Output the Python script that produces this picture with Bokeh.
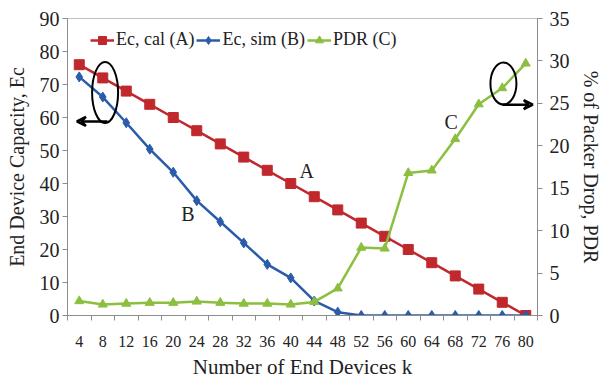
from bokeh.plotting import figure
from bokeh.models import (Range1d, LinearAxis, FixedTicker, Legend, LegendItem,
                          Arrow, VeeHead, Label, ColumnDataSource)
from bokeh.embed import file_html
from bokeh.resources import INLINE

# ---- data ----
k = [4, 8, 12, 16, 20, 24, 28, 32, 36, 40, 44, 48, 52, 56, 60, 64, 68, 72, 76, 80]
ec_cal = [76, 72, 68, 64, 60, 56, 52, 48, 44, 40, 36, 32, 28, 24, 20, 16, 12, 8, 4, 0]
ec_sim = [72.3, 66.2, 58.4, 50.4, 43.4, 34.8, 28.4, 22.0, 15.5, 11.4, 4.4, 1.0,
          0, 0, 0, 0, 0, 0, 0, 0]
pdr = [1.7, 1.3, 1.4, 1.5, 1.5, 1.65, 1.5, 1.4, 1.4, 1.3, 1.6, 3.2,
       8.0, 7.9, 16.8, 17.1, 20.8, 24.9, 26.8, 29.7]
left_ticks = [0, 10, 20, 30, 40, 50, 60, 70, 80, 90]
right_ticks = [0, 5, 10, 15, 20, 25, 30, 35]
boundaries = [2 + 4 * i for i in range(21)]

RED = "#C0282D"
BLUE = "#2A5CAA"
GREEN = "#8CBF3F"
FONT = "Liberation Serif"
AXC = "#8C8C8C"
TXT = "#222222"

p = figure(width=604, height=385, output_backend="svg", toolbar_location=None,
           x_range=Range1d(2, 82), y_range=Range1d(0, 90),
           min_border_left=67, min_border_right=63, min_border_top=18,
           min_border_bottom=70, x_axis_location=None, y_axis_location=None)
p.extra_y_ranges = {"pdr": Range1d(0, 35)}
p.xgrid.visible = False
p.ygrid.visible = False
p.outline_line_color = "#BFBFBF"
p.background_fill_color = "white"
p.border_fill_color = "white"


def style_y(ax):
    ax.axis_label_text_font = FONT
    ax.axis_label_text_font_size = "20px"
    ax.axis_label_text_font_style = "normal"
    ax.axis_label_text_color = TXT
    ax.major_label_text_font = FONT
    ax.major_label_text_font_size = "20px"
    ax.major_label_text_color = TXT
    ax.axis_line_color = AXC
    ax.major_tick_line_color = AXC
    ax.major_tick_out = 5
    ax.major_tick_in = 0
    ax.minor_tick_line_color = None


ly = LinearAxis(ticker=FixedTicker(ticks=left_ticks),
                axis_label="End Device Capacity, Ec")
style_y(ly)
ly.major_label_standoff = 3
ly.axis_label_standoff = 9
p.add_layout(ly, "left")

ry = LinearAxis(y_range_name="pdr", ticker=FixedTicker(ticks=right_ticks),
                axis_label="% of Packer Drop, PDR")
style_y(ry)
ry.major_label_standoff = 7
ry.axis_label_standoff = 7
p.add_layout(ry, "right")

# bottom axis with ticks at category boundaries (no labels)
bx = LinearAxis(ticker=FixedTicker(ticks=boundaries))
bx.major_label_overrides = {b: "" for b in boundaries}
bx.major_label_text_font_size = "1px"
bx.major_label_standoff = 0
bx.axis_line_color = AXC
bx.major_tick_line_color = AXC
bx.major_tick_out = 5
bx.major_tick_in = 0
bx.minor_tick_line_color = None
p.add_layout(bx, "below")

# bottom axis carrying labels at category centres
lx = LinearAxis(ticker=FixedTicker(ticks=k), axis_label="Number of End Devices k")
lx.axis_line_color = None
lx.major_tick_line_color = None
lx.minor_tick_line_color = None
lx.major_tick_out = 0
lx.major_tick_in = 0
lx.major_label_text_font = FONT
lx.major_label_text_font_size = "16px"
lx.major_label_text_color = TXT
lx.major_label_standoff = 15
lx.axis_label_text_font = FONT
lx.axis_label_text_font_size = "21px"
lx.axis_label_text_font_style = "normal"
lx.axis_label_text_color = TXT
lx.axis_label_standoff = 5
p.add_layout(lx, "below")

src = ColumnDataSource(dict(k=k, ec_cal=ec_cal, ec_sim=ec_sim, pdr=pdr))

r1l = p.line("k", "ec_cal", source=src, color=RED, line_width=2.5)
r1m = p.scatter("k", "ec_cal", source=src, marker="square", size=10, color=RED)
r2l = p.line("k", "ec_sim", source=src, color=BLUE, line_width=2.5)
r2m = p.scatter("k", "ec_sim", source=src, marker="diamond", size=10, color=BLUE)
r3l = p.line("k", "pdr", source=src, color=GREEN, line_width=2.5, y_range_name="pdr")
r3m = p.scatter("k", "pdr", source=src, marker="triangle", size=9, color=GREEN,
                y_range_name="pdr")

legend = Legend(items=[LegendItem(label="Ec, cal (A)", renderers=[r1l, r1m]),
                       LegendItem(label="Ec, sim (B)", renderers=[r2l, r2m]),
                       LegendItem(label="PDR (C)", renderers=[r3l, r3m])],
                orientation="horizontal", location=(23, 265),
                border_line_color=None, background_fill_alpha=0,
                label_text_font=FONT, label_text_font_size="18px",
                label_text_color=TXT, glyph_width=24, label_standoff=2,
                spacing=2, padding=2, margin=0)
p.add_layout(legend, "center")

# annotations (ellipses marking which axis each series uses)
p.ellipse(x=[8.4], y=[67.6], width=26, height=61, width_units="screen",
          height_units="screen", fill_color=None, line_color="black", line_width=2)
p.ellipse(x=[76.2], y=[70.3], width=26, height=42, width_units="screen",
          height_units="screen", fill_color=None, line_color="black", line_width=2)
p.add_layout(Arrow(x_start=8.8, y_start=58.8, x_end=3.6, y_end=58.8,
                   line_width=2.5, line_color="black",
                   end=VeeHead(size=9, line_color="black", line_width=2.5,
                               fill_color=None)))
p.add_layout(Arrow(x_start=76.0, y_start=63.9, x_end=81.2, y_end=63.9,
                   line_width=2.5, line_color="black",
                   end=VeeHead(size=9, line_color="black", line_width=2.5,
                               fill_color=None)))
for txt, xx, yy in [("A", 42.7, 43.9), ("B", 22.5, 30.9), ("C", 67.3, 58.5)]:
    p.add_layout(Label(x=xx, y=yy, text=txt, text_font=FONT, text_font_size="20px",
                       text_align="center", text_baseline="middle",
                       text_color=TXT))

open("out.html", "w").write(file_html(p, INLINE))
